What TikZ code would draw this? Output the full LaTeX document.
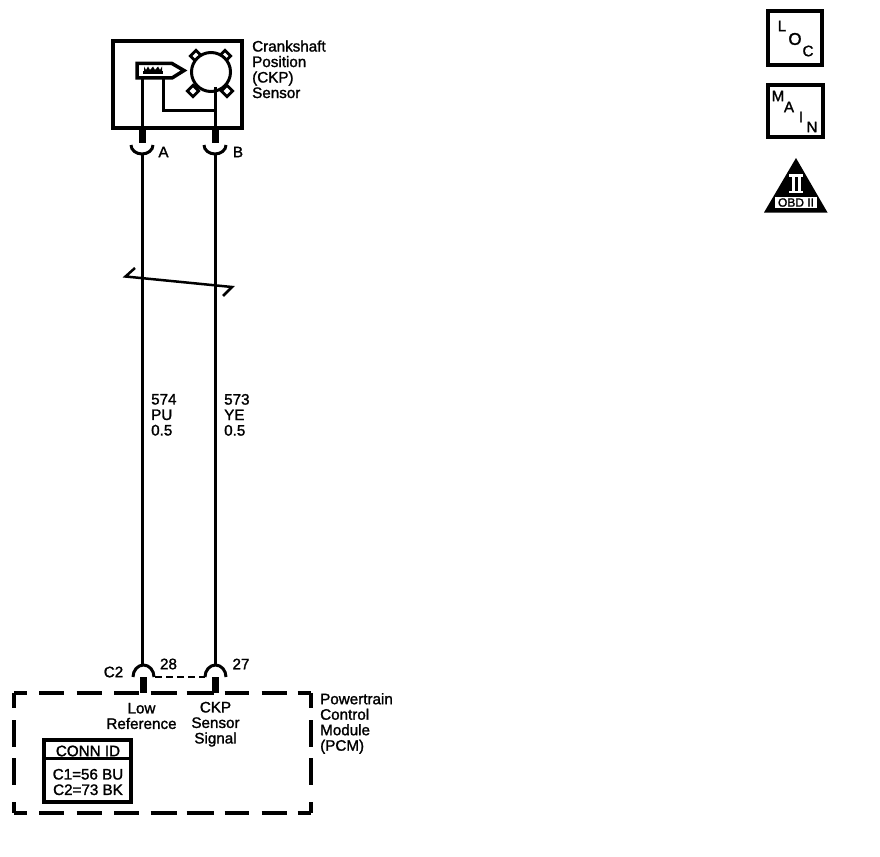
\documentclass[tikz,border=0pt]{standalone}
\usepackage{fontspec}
\setmainfont{Liberation Sans}[RawFeature={embolden=1.5}]
\tikzset{
  x=1pt,y=-1pt,
  wire/.style={line width=3pt,black},
  pin/.style={line width=7pt,black},
  cup/.style={line width=3pt,black},
  box/.style={draw=black,line width=3.2pt,fill=white},
  lbl/.style={inner sep=0pt,font=\fontsize{15.2}{15.5}\selectfont,align=left,anchor=west},
  ctr/.style={inner sep=0pt,font=\fontsize{15.2}{15.5}\selectfont,align=center},
  tooth/.style={draw=black,line width=2.8pt,fill=white,minimum size=8pt,inner sep=0pt,rotate=45,shape=rectangle},
  pcmside/.style={line width=3.5pt,black}
}
\begin{document}
\begin{tikzpicture}
\useasboundingbox (0,0) rectangle (880,856);
% sensor
\node[box,minimum width=129pt,minimum height=87pt,inner sep=0pt] (sensor) at (177.5,84.5) {};
\node[lbl,align=left,anchor=north west] (sensorlabel) at (252,40.3) {Crankshaft\\Position\\(CKP)\\Sensor};
\coordinate (aTop) at (142,78);
\coordinate (aBox) at (142,128);
\coordinate (aCup) at (142,153);
\coordinate (bBox) at (215,128);
\coordinate (bCup) at (215,153);
\coordinate (aEnd) at (142,665);
\coordinate (bEnd) at (215,665);
\coordinate (bTop) at (215,87);
\coordinate (gndS) at (163,78);
% circle and teeth
\foreach \n/\p in {t1/{(196,56)},t2/{(225,56)},t3/{(193,91)},t4/{(227,91)}}{
  \node[tooth] (\n) at \p {};
}
\node[circle,draw=black,line width=3pt,fill=white,minimum size=39pt,inner sep=0pt] (wheel) at (211,72) {};
% pickup
\draw[line width=3.5pt,fill=white,line join=miter] (137,63.5) -- (172,63.5) -- (184,70.5) -- (172,78) -- (137,78) -- cycle;
\fill (143,71) rectangle (163,74);
\fill (144,66.5) -- (146,70) -- (148,66.5) -- (150,70) -- (153,66.5) -- (155,70) -- (158,66.5) -- (160,70) -- (162,66.5) -- (162,71) -- (144,71) -- cycle;
% wires
\draw[wire] (aTop) -- (aBox);
\draw[wire] (bTop) -- (bBox);
\draw[wire] (gndS) -- (163,111) -- (215,111);
\draw[pin] (142,129) -- (142,143);
\draw[pin] (215,129) -- (215,143);
\draw[wire] (aCup) -- (aEnd);
\draw[wire] (bCup) -- (bEnd);
\draw[cup] (131,145) arc[start angle=180,end angle=360,x radius=11,y radius=-9];
\draw[cup] (204,145) arc[start angle=180,end angle=360,x radius=11,y radius=-9];
\node[ctr] (pinA) at (163.5,152) {A};
\node[ctr] (pinB) at (238,152) {B};
% break
\draw[line width=2.5pt,line join=miter] (135,268) -- (125.5,276.5) -- (232,287) -- (223,296);
% labels
\node[lbl,anchor=north west] (w574) at (151,393.8) {574\\PU\\0.5};
\node[lbl,anchor=north west] (w573) at (224,393.8) {573\\YE\\0.5};
% bottom connector
\draw[cup] (133,677) arc[start angle=180,end angle=0,x radius=10.5,y radius=-12];
\draw[cup] (205,677) arc[start angle=180,end angle=0,x radius=10.5,y radius=-12];
\draw[line width=2pt,dash pattern=on 7pt off 4pt] (155,677) -- (205,677);
\draw[pin] (143,677) -- (143,693);
\draw[pin] (215.5,677) -- (215.5,693);
\node[ctr] (c2) at (113.5,672) {C2};
\node[ctr] (p28) at (168.5,664) {28};
\node[ctr] (p27) at (241,664) {27};
% PCM
\coordinate (pa) at (14,693);
\coordinate (pb) at (311,693);
\coordinate (pc) at (311,813);
\coordinate (pd) at (14,813);
\draw[pcmside,dash pattern=on 12.5pt off 12.5pt on 25pt off 12.5pt on 25pt off 12.5pt on 25pt off 11.5pt on 26pt off 10pt on 27pt off 11pt on 24pt off 13pt on 25pt off 11pt on 16pt] (pa) -- (pb);
\draw[pcmside,dash pattern=on 12.5pt off 12.5pt on 25pt off 12.5pt on 25pt off 12.5pt on 25pt off 11.5pt on 26pt off 10pt on 27pt off 11pt on 24pt off 13pt on 25pt off 11pt on 16pt] (pd) -- (pc);
\draw[pcmside,dash pattern=on 15pt off 12pt on 27pt off 11pt on 27pt off 17pt on 11pt] (pa) -- (pd);
\draw[pcmside,dash pattern=on 15pt off 12pt on 27pt off 11pt on 27pt off 17pt on 11pt] (pb) -- (pc);
\node[ctr] (low) at (141.5,716) {Low\\Reference};
\node[ctr] (ckp) at (215.5,724.2) {CKP\\Sensor\\Signal};
\node[lbl,anchor=north west] (pcm) at (320,693) {Powertrain\\Control\\Module\\(PCM)};
% conn id
\node[box,minimum width=87pt,minimum height=62pt,inner sep=0pt] (conn) at (87.5,771) {};
\draw[line width=3pt] (conn.west |- 0,758) -- (conn.east |- 0,758);
\node[ctr] (connhead) at (88,751) {CONN ID};
\node[ctr] (connbody) at (88,782) {C1=56 BU\\C2=73 BK};
% LOC
\node[box,minimum width=54pt,minimum height=54pt,inner sep=0pt] (loc) at (795,38) {};
\node[ctr] at (782,26) (locL) {L};
\node[ctr,font=\fontsize{17}{18}\selectfont] at (795,39) (locO) {O};
\node[ctr] at (808,51) (locC) {C};
% MAIN
\node[box,minimum width=55pt,minimum height=52pt,inner sep=0pt] (main) at (795.5,111) {};
\node[ctr] at (778,96) (mainM) {M};
\node[ctr] at (789,107) (mainA) {A};
\node[ctr] at (801,117) (mainI) {I};
\node[ctr] at (812,127) (mainN) {N};
% OBD
\fill (796,158) -- (827.5,212.5) -- (764,212.5) -- cycle;
\fill[white] (789,174) rectangle (803,176.5);
\fill[white] (789,190.5) rectangle (803,193);
\fill[white] (791.5,176) rectangle (794.5,191);
\fill[white] (797.5,176) rectangle (800.5,191);
\node[fill=white,minimum width=42pt,minimum height=11pt,inner sep=0pt,font=\fontsize{12}{12}\selectfont] (obd) at (796,202.5) {OBD II};
\end{tikzpicture}
\end{document}
